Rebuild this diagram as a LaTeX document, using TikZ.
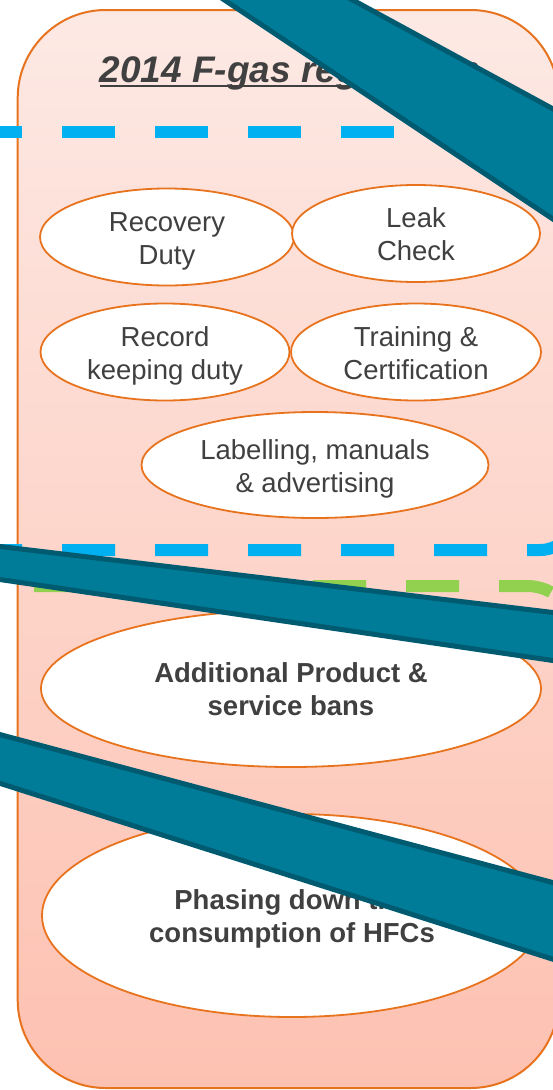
\documentclass[tikz,border=0pt]{standalone}
\usepackage{fontspec}
\setmainfont{Liberation Sans}
\usetikzlibrary{shapes.geometric}
\definecolor{frameorange}{HTML}{E8731E}
\definecolor{frametop}{HTML}{FDE9E4}
\definecolor{framebottom}{HTML}{FDC1B1}
\definecolor{dashblue}{HTML}{00B0F0}
\definecolor{dashgreen}{HTML}{92D050}
\definecolor{bandfill}{HTML}{007C98}
\definecolor{bandedge}{HTML}{005A70}
\definecolor{textgray}{HTML}{404040}
% one strut per text line: 27pt above the baseline, 6pt below
\newcommand\linestrut{\rule[-6pt]{0pt}{33pt}}

\begin{document}
\begin{tikzpicture}[x=1pt,y=-1pt,
  bubble/.style={ellipse, draw=frameorange, line width=1.8pt, fill=white,
    inner sep=0pt, align=center, text=textgray,
    font=\fontsize{27.5}{33}\selectfont},
  boldbubble/.style={bubble, font=\fontsize{27.5}{33}\selectfont\bfseries},
  band/.style={fill=bandfill, draw=bandedge, line width=5pt, line join=miter},
  dashline/.style={line width=12pt, dash pattern=on 53pt off 40pt}]
\useasboundingbox (0,0) rectangle (553,1090);
\clip (0,0) rectangle (553,1090);

% outer rounded panel
\node[draw=frameorange, line width=2pt, rounded corners=88pt,
  top color=frametop, bottom color=framebottom,
  minimum width=540.9pt, minimum height=1078pt, inner sep=0pt]
  (frame) at (288.15,549) {};

% dashed group outlines
\draw[dashline, dashblue] (-31,132) -- (620,132);
\draw[dashline, dashblue, rounded corners=35pt] (-31,550) -- (575,550) -- (575,300);
\draw[dashline, dashgreen, rounded corners=50pt] (-59,586) -- (577,586) -- (577,900);

% heading
\node[anchor=base, inner sep=0pt, text=textgray,
  font=\fontsize{37}{44}\selectfont\bfseries\itshape]
  (title) at (290,82) {2014 F-gas regulation};
\draw[textgray, line width=2pt]
  ([yshift=-4pt]title.base west) -- ([yshift=-4pt]title.base east);

% obligations
\node[bubble, minimum width=254pt, minimum height=97pt] (recovery) at (167,237)
  {\linestrut Recovery\\\linestrut Duty};
\node[bubble, minimum width=248pt, minimum height=97pt] (leak) at (416,233.5)
  {\linestrut Leak\\\linestrut Check};
\node[bubble, minimum width=249pt, minimum height=97pt] (record) at (165,352)
  {\linestrut Record\\\linestrut keeping duty};
\node[bubble, minimum width=250pt, minimum height=97pt] (training) at (416,352)
  {\linestrut Training \&\\\linestrut Certification};
\node[bubble, minimum width=347pt, minimum height=106pt] (labelling) at (315,465)
  {\linestrut Labelling, manuals\\\linestrut \& advertising};
\node[boldbubble, minimum width=500pt, minimum height=157pt] (additional) at (291,688.5)
  {\linestrut Additional Product \&\\\linestrut service bans};
\node[boldbubble, minimum width=500pt, minimum height=203pt] (phasing) at (292,915.5)
  {\linestrut Phasing down the\\\linestrut consumption of HFCs};

% teal bars laid across the panel
\draw[band] (194.5,-20) -- (316,-20) -- (600,134.5) -- (600,250.5) -- cycle;
\draw[band] (-20,544.1) -- (600,618.1) -- (600,667.4) -- (-20,576.6) -- cycle;
\draw[band] (-20,729.2) -- (600,895.2) -- (600,974.2) -- (-20,777) -- cycle;
\end{tikzpicture}
\end{document}
